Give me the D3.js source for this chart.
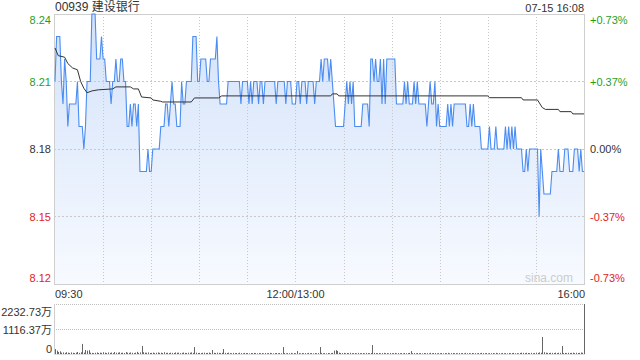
<!DOCTYPE html>
<html>
<head>
<meta charset="utf-8">
<script src="https://cdn.jsdelivr.net/npm/d3@7"></script>
<style>
body { margin: 0; background: #fff; }
text { font-family: 'Liberation Sans', Arial, 'Noto Sans CJK SC', sans-serif; }
</style>
</head>
<body>
<svg width="640" height="360"></svg>
<script>
// minute prices 09:30 -> 16:00 (330 trading minutes)
var prices = [
8.21, 8.23, 8.23, 8.23, 8.21, 8.20, 8.22, 8.21, 8.19, 8.20,
8.20, 8.20, 8.20, 8.20, 8.21, 8.19, 8.19, 8.19, 8.18, 8.19,
8.21, 8.21, 8.21, 8.24, 8.24, 8.24, 8.22, 8.22, 8.22, 8.23,
8.22, 8.22, 8.21, 8.21, 8.21, 8.20, 8.21, 8.21, 8.22, 8.21,
8.21, 8.22, 8.22, 8.21, 8.21, 8.19, 8.19, 8.20, 8.19, 8.20,
8.20, 8.19, 8.20, 8.17, 8.17, 8.17, 8.17, 8.17, 8.18, 8.17,
8.17, 8.18, 8.18, 8.18, 8.18, 8.18, 8.19, 8.19, 8.19, 8.20,
8.20, 8.19, 8.20, 8.21, 8.20, 8.20, 8.19, 8.19, 8.19, 8.21,
8.20, 8.20, 8.21, 8.21, 8.21, 8.21, 8.23, 8.23, 8.23, 8.21,
8.21, 8.22, 8.22, 8.22, 8.22, 8.21, 8.21, 8.22, 8.22, 8.22,
8.22, 8.23, 8.21, 8.20, 8.20, 8.20, 8.20, 8.20, 8.21, 8.21,
8.21, 8.21, 8.21, 8.21, 8.21, 8.21, 8.20, 8.21, 8.21, 8.21,
8.21, 8.20, 8.21, 8.20, 8.21, 8.21, 8.21, 8.20, 8.21, 8.21,
8.20, 8.21, 8.21, 8.21, 8.21, 8.21, 8.21, 8.21, 8.20, 8.21,
8.21, 8.21, 8.21, 8.21, 8.20, 8.21, 8.21, 8.21, 8.20, 8.20,
8.20, 8.21, 8.21, 8.20, 8.21, 8.21, 8.21, 8.20, 8.21, 8.21,
8.21, 8.21, 8.20, 8.21, 8.21, 8.21, 8.22, 8.21, 8.22, 8.22,
8.22, 8.21, 8.22, 8.21, 8.20, 8.19, 8.19, 8.19, 8.19, 8.19,
8.19, 8.20, 8.21, 8.20, 8.21, 8.20, 8.21, 8.19, 8.19, 8.19,
8.19, 8.19, 8.20, 8.20, 8.20, 8.20, 8.19, 8.22, 8.22, 8.21,
8.22, 8.21, 8.21, 8.22, 8.20, 8.22, 8.20, 8.22, 8.22, 8.22,
8.22, 8.22, 8.22, 8.20, 8.20, 8.20, 8.20, 8.20, 8.21, 8.20,
8.21, 8.20, 8.20, 8.20, 8.21, 8.20, 8.21, 8.20, 8.20, 8.20,
8.20, 8.20, 8.19, 8.20, 8.21, 8.20, 8.20, 8.21, 8.19, 8.20,
8.19, 8.19, 8.19, 8.19, 8.19, 8.20, 8.19, 8.20, 8.19, 8.20,
8.20, 8.20, 8.20, 8.20, 8.20, 8.20, 8.20, 8.19, 8.19, 8.20,
8.19, 8.20, 8.19, 8.19, 8.19, 8.19, 8.18, 8.18, 8.18, 8.18,
8.18, 8.19, 8.18, 8.18, 8.18, 8.19, 8.18, 8.18, 8.18, 8.18,
8.18, 8.19, 8.18, 8.19, 8.18, 8.19, 8.18, 8.19, 8.18, 8.18,
8.18, 8.18, 8.17, 8.17, 8.18, 8.17, 8.18, 8.18, 8.18, 8.18,
8.18, 8.18, 8.15, 8.18, 8.17, 8.16, 8.16, 8.16, 8.16, 8.16,
8.17, 8.17, 8.17, 8.17, 8.18, 8.17, 8.17, 8.17, 8.18, 8.18,
8.18, 8.17, 8.17, 8.17, 8.18, 8.18, 8.18, 8.17, 8.18, 8.17,
8.17
];

// volume per minute, in 万 shares
var volumes = [
220, 150, 90, 120, 60, 70, 50, 80, 60, 45,
70, 55, 40, 60, 90, 50, 75, 450, 60, 180,
150, 170, 60, 50, 40, 55, 70, 45, 60, 50,
80, 60, 45, 70, 50, 65, 40, 90, 55, 60,
75, 50, 60, 45, 85, 60, 50, 70, 55, 40,
60, 95, 50, 70, 360, 80, 60, 55, 70, 45,
50, 65, 40, 55, 70, 50, 60, 45, 80, 50,
55, 40, 60, 50, 45, 70, 55, 60, 40, 50,
65, 50, 45, 60, 55, 70, 50, 310, 60, 45,
50, 40, 55, 60, 45, 50, 65, 40, 180, 55,
45, 60, 50, 40, 55, 220, 50, 45, 60, 40,
35, 50, 40, 45, 30, 55, 40, 35, 50, 45,
40, 30, 45, 35, 50, 40, 30, 45, 35, 40,
30, 45, 35, 40, 50, 35, 30, 40, 45, 35,
40, 35, 310, 45, 30, 40, 35, 50, 30, 40,
35, 130, 40, 30, 45, 35, 40, 30, 50, 35,
40, 30, 45, 35, 40, 310, 50, 35, 40, 30,
45, 35, 40, 50, 150, 170, 140, 60, 45, 40,
50, 35, 45, 40, 55, 35, 40, 45, 30, 50,
35, 40, 45, 30, 50, 40, 35, 45, 400, 50,
40, 35, 45, 30, 40, 50, 35, 40, 30, 45,
35, 40, 50, 30, 45, 35, 40, 30, 45, 35,
40, 50, 130, 35, 40, 30, 45, 35, 40, 30,
45, 35, 40, 30, 50, 35, 40, 45, 30, 40,
35, 45, 30, 40, 35, 50, 30, 40, 45, 35,
40, 30, 45, 35, 40, 30, 50, 35, 40, 30,
45, 35, 40, 30, 45, 35, 50, 40, 35, 45,
30, 40, 35, 45, 30, 50, 35, 40, 30, 45,
35, 40, 30, 45, 35, 40, 50, 35, 40, 30,
45, 60, 50, 40, 55, 45, 40, 50, 35, 45,
60, 50, 70, 55, 760, 80, 60, 50, 45, 55,
50, 45, 60, 40, 55, 50, 360, 45, 50, 40,
55, 45, 50, 60, 40, 55, 45, 50, 65, 55,
2232.73
];

// average price line, read at its turning points
var avgMinutes = [0, 2, 6, 8, 11, 14, 16, 18, 20, 23, 27, 36, 38, 47, 49, 52, 54, 60, 61, 66, 67, 85, 87, 102, 104, 172, 173, 176, 177, 270, 271, 291, 292, 301, 304, 306, 314, 315, 322, 323, 330];
var avgValues = [8.2249, 8.2215, 8.2208, 8.2180, 8.2160, 8.2152, 8.2100, 8.2070, 8.2050, 8.2058, 8.2063, 8.2067, 8.2076, 8.2076, 8.2067, 8.2067, 8.2031, 8.2027, 8.2018, 8.2012, 8.2009, 8.2009, 8.2027, 8.2027, 8.2036, 8.2036, 8.2045, 8.2045, 8.2036, 8.2036, 8.2028, 8.2028, 8.2018, 8.2018, 8.1984, 8.1976, 8.1976, 8.1966, 8.1966, 8.1956, 8.1956];

var prevClose = 8.18;
var priceTicks = [8.12, 8.15, 8.18, 8.21, 8.24];
var volTicks = [0, 1116.37, 2232.73];
var gridMinutes = [30, 60, 90, 120, 150, 180, 210, 240, 270, 300];
var timeTicks = [0, 150, 330];
var timeLabels = ['09:30', '12:00/13:00', '16:00'];
var title = '00939 建设银行';
var stamp = '07-15 16:08';

var svg = d3.select('svg');
// plot box (window.top is read-only, so prefixed names)
var pLeft = 54, pRight = 584, pTop = 14, pBottom = 284;
var vTop = 304, vBottom = 354;

var x = d3.scaleLinear().domain([0, 330]).range([pLeft + 1, pRight]),
    y = d3.scaleLinear().domain([8.12, 8.24]).range([pBottom, pTop]),
    yv = d3.scaleLinear().domain([0, 2232.73]).range([vBottom, vTop]);

var green = '#1f9f1f', red = '#e52222', dark = '#333';
function tickColor(d) { return d > prevClose ? green : (d < prevClose ? red : dark); }

var defs = svg.append('defs');
var grad = defs.append('linearGradient')
  .attr('id', 'fill')
  .attr('x1', 0).attr('y1', 0).attr('x2', 0).attr('y2', 1);
grad.append('stop').attr('offset', '0%').attr('stop-color', '#d3e2fa');
grad.append('stop').attr('offset', '100%').attr('stop-color', '#f7faff');

// area under price line
svg.append('path')
  .datum(prices)
  .attr('fill', 'url(#fill)')
  .attr('d', d3.area()
    .x(function(d, i) { return x(i); })
    .y0(pBottom)
    .y1(function(d) { return y(d); }));

// grid
var grid = svg.append('g').attr('class', 'grid');
grid.selectAll('.vgrid')
  .data(gridMinutes)
  .enter().append('line')
  .attr('x1', function(d) { return Math.round(x(d)) + 0.5; })
  .attr('x2', function(d) { return Math.round(x(d)) + 0.5; })
  .attr('y1', pTop).attr('y2', pBottom)
  .attr('stroke', '#c8c8c8')
  .attr('stroke-dasharray', '1,2');
grid.selectAll('.hgrid')
  .data([8.15, 8.18, 8.21])
  .enter().append('line')
  .attr('x1', pLeft).attr('x2', pRight)
  .attr('y1', function(d) { return Math.round(y(d)) + 0.5; })
  .attr('y2', function(d) { return Math.round(y(d)) + 0.5; })
  .attr('stroke', '#c8c8c8')
  .attr('stroke-dasharray', '2,2');

svg.append('rect')
  .attr('x', pLeft + 0.5).attr('y', pTop + 0.5)
  .attr('width', pRight - pLeft).attr('height', pBottom - pTop)
  .attr('fill', 'none')
  .attr('stroke', '#cfcfcf');

// price line
svg.append('path')
  .datum(prices)
  .attr('fill', 'none')
  .attr('stroke', '#4a8cf2')
  .attr('stroke-width', 1.1)
  .attr('d', d3.line()
    .x(function(d, i) { return x(i); })
    .y(function(d) { return y(d); }));

// average line
svg.append('path')
  .datum(avgMinutes)
  .attr('fill', 'none')
  .attr('stroke', '#333')
  .attr('stroke-width', 1)
  .attr('d', d3.line()
    .x(function(d) { return x(d); })
    .y(function(d, i) { return y(avgValues[i]); }));

svg.append('text')
  .attr('x', 573).attr('y', 282)
  .attr('text-anchor', 'end')
  .attr('fill', '#cccccc')
  .style('font-size', '12px')
  .text('sina.com');

// axes
var yl = svg.append('g')
  .attr('transform', 'translate(' + pLeft + ',0)')
  .call(d3.axisLeft(y).tickValues(priceTicks).tickSize(0).tickPadding(3).tickFormat(d3.format('.2f')));
yl.select('.domain').remove();
yl.selectAll('text')
  .style('font-size', '11px')
  .attr('fill', tickColor)
  .attr('y', function(d) { return d === 8.24 ? 6 : (d === 8.12 ? -6 : 0); });

var yr = svg.append('g')
  .attr('transform', 'translate(' + pRight + ',0)')
  .call(d3.axisRight(y).tickValues(priceTicks).tickSize(0).tickPadding(6)
    .tickFormat(function(d) {
      var v = (d - prevClose) / prevClose * 100;
      return (v > 0 ? '+' : '') + v.toFixed(2) + '%';
    }));
yr.select('.domain').remove();
yr.selectAll('text')
  .style('font-size', '11px')
  .attr('fill', tickColor)
  .attr('y', function(d) { return d === 8.24 ? 6 : (d === 8.12 ? -6 : 0); });

svg.selectAll('.time')
  .data(timeTicks)
  .enter().append('text')
  .attr('x', function(d) { return d === 0 ? pLeft + 1 : (d === 330 ? pRight + 1 : x(d)); })
  .attr('y', 297.5)
  .attr('text-anchor', function(d, i) { return i === 0 ? 'start' : (i === 2 ? 'end' : 'middle'); })
  .attr('fill', dark)
  .style('font-size', '11px')
  .text(function(d, i) { return timeLabels[i]; });

svg.append('text')
  .attr('x', pLeft + 1).attr('y', 11)
  .attr('fill', dark)
  .style('font-size', '12px')
  .text(title);
svg.append('text')
  .attr('x', pRight).attr('y', 12)
  .attr('text-anchor', 'end')
  .attr('fill', dark)
  .style('font-size', '11px')
  .text(stamp);

// volume panel
var vol = svg.append('g').attr('class', 'volume');
vol.selectAll('.vline')
  .data([2232.73, 1116.37])
  .enter().append('line')
  .attr('x1', pLeft).attr('x2', pRight)
  .attr('y1', function(d) { return Math.round(yv(d)) + 0.5; })
  .attr('y2', function(d) { return Math.round(yv(d)) + 0.5; })
  .attr('stroke', '#bdbdbd')
  .attr('stroke-dasharray', '1,1');
vol.append('line')
  .attr('x1', pLeft + 0.5).attr('x2', pLeft + 0.5)
  .attr('y1', vTop).attr('y2', vBottom + 1)
  .attr('stroke', '#cfcfcf');
vol.append('line')
  .attr('x1', pRight + 0.5).attr('x2', pRight + 0.5)
  .attr('y1', vTop).attr('y2', vBottom + 1)
  .attr('stroke', '#cfcfcf');
vol.append('line')
  .attr('x1', pLeft).attr('x2', pRight + 1)
  .attr('y1', vBottom + 0.5).attr('y2', vBottom + 0.5)
  .attr('stroke', '#dedede');

vol.selectAll('.bar')
  .data(volumes)
  .enter().append('line')
  .attr('x1', function(d, i) { return Math.round(x(i)) + 0.5; })
  .attr('x2', function(d, i) { return Math.round(x(i)) + 0.5; })
  .attr('y1', yv(0))
  .attr('y2', function(d) { return yv(d); })
  .attr('stroke', '#666');

var yvAxis = svg.append('g')
  .attr('transform', 'translate(' + pLeft + ',0)')
  .call(d3.axisLeft(yv).tickValues(volTicks).tickSize(0).tickPadding(2)
    .tickFormat(function(d) { return d === 0 ? '0' : d.toFixed(2) + '万'; }));
yvAxis.select('.domain').remove();
yvAxis.selectAll('text')
  .style('font-size', '11px')
  .attr('fill', dark)
  .attr('y', function(d) { return d === 2232.73 ? 8 : (d === 0 ? -5 : 1); });
</script>
</body>
</html>
